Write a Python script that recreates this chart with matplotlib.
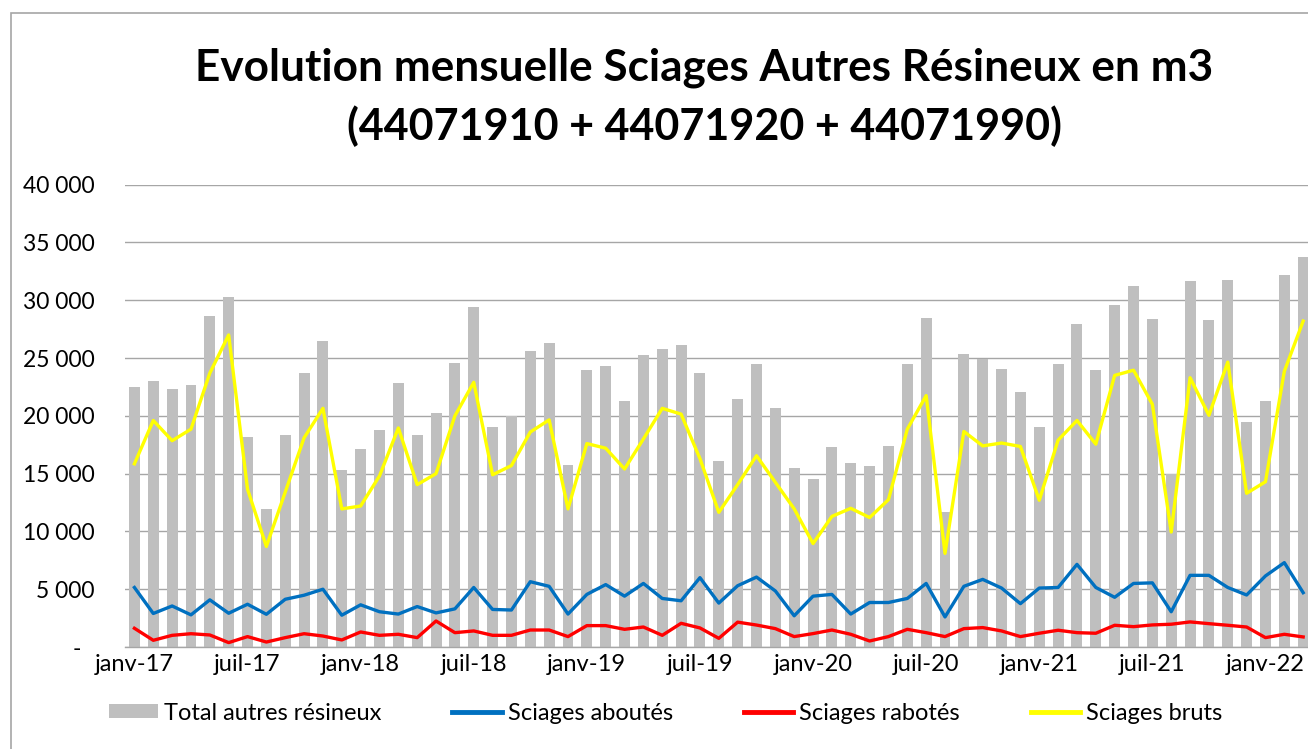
import matplotlib
matplotlib.use("Agg")
import matplotlib.pyplot as plt
import matplotlib.transforms as mtransforms
from matplotlib.patches import Rectangle, Patch
from matplotlib.lines import Line2D
from matplotlib.ticker import FuncFormatter, FixedLocator

plt.rcParams['font.family'] = ['Lato', 'DejaVu Sans']

# ---------------- data ----------------
month_names = ['janv', 'févr', 'mars', 'avr', 'mai', 'juin',
               'juil', 'août', 'sept', 'oct', 'nov', 'déc']
years = ['17', '18', '19', '20', '21', '22']
categories = [f"{m}-{y}" for y in years for m in month_names][:63]

total_autres = [22500, 23000, 22300, 22650, 28600, 30300, 18200, 11950, 18300, 23700,
                26500, 15300, 17150, 18800, 22850, 18350, 20250, 24600, 29400, 19050,
                19950, 25650, 26300, 15750, 24000, 24350, 21300, 25300, 25800, 26150,
                23700, 16100, 21450, 24450, 20650, 15500, 14500, 17300, 15900, 15650,
                17400, 24450, 28450, 11650, 25350, 24950, 24050, 22050, 19000, 24450,
                27950, 23950, 29600, 31200, 28350, 15000, 31700, 28300, 31750, 19500,
                21250, 32200, 33750]

sciages_bruts = [15850, 19600, 17850, 18850, 23700, 27000, 13650, 8700, 13400, 18100,
                 20650, 11950, 12200, 14800, 18950, 14050, 15000, 20000, 22900, 14900,
                 15700, 18600, 19650, 11950, 17600, 17200, 15400, 18000, 20650, 20150,
                 16300, 11650, 14050, 16550, 14250, 11950, 8950, 11300, 12000, 11200,
                 12750, 18850, 21750, 8100, 18650, 17400, 17650, 17350, 12700, 17900,
                 19600, 17550, 23500, 23950, 21000, 9950, 23300, 20050, 24650, 13300,
                 14300, 23850, 28200]

sciages_aboutes = [5150, 2900, 3550, 2780, 4080, 2920, 3700, 2830, 4130, 4480,
                   5000, 2750, 3650, 3050, 2850, 3500, 2950, 3300, 5150, 3250,
                   3200, 5650, 5250, 2850, 4550, 5400, 4400, 5500, 4200, 4000,
                   6000, 3800, 5300, 6050, 4850, 2700, 4400, 4550, 2850, 3850,
                   3850, 4200, 5500, 2600, 5250, 5850, 5100, 3750, 5100, 5150,
                   7150, 5150, 4300, 5500, 5550, 3050, 6200, 6200, 5150, 4500,
                   6150, 7300, 4700]

sciages_rabotes = [1620, 580, 1010, 1150, 1040, 380, 900, 430, 810, 1150,
                   950, 610, 1300, 1010, 1100, 810, 2250, 1240, 1390, 1010,
                   1010, 1470, 1470, 900, 1850, 1850, 1530, 1730, 1010, 2050,
                   1650, 750, 2150, 1900, 1590, 900, 1160, 1470, 1100, 520,
                   900, 1530, 1240, 900, 1590, 1680, 1390, 900, 1190, 1450,
                   1240, 1190, 1880, 1760, 1910, 1970, 2170, 2020, 1880, 1730,
                   810, 1100, 870]

y_ticks = [0, 5000, 10000, 15000, 20000, 25000, 30000, 35000, 40000]

# ---------------- figure ----------------
W, H = 1308, 749
fig = plt.figure(figsize=(W / 100, H / 100), dpi=100)
fig.patch.set_facecolor('white')

left_px, right_px, top_px, bottom_px = 125, 1312.6, 184.7, 647
ax = fig.add_axes([left_px / W, 1 - bottom_px / H,
                   (right_px - left_px) / W, (bottom_px - top_px) / H])

x = list(range(len(categories)))
ax.bar(x, total_autres, width=0.58, color='#BFBFBF', zorder=2)
ax.plot(x, sciages_aboutes, color='#0070C0', lw=2.4, zorder=3, solid_joinstyle='round')
ax.plot(x, sciages_rabotes, color='#FF0000', lw=2.4, zorder=3, solid_joinstyle='round')
ax.plot(x, sciages_bruts, color='#FFFF00', lw=2.4, zorder=3, solid_joinstyle='round')

ax.set_xlim(-0.5, len(categories) - 0.5)
ax.set_ylim(0, 40000)

ax.yaxis.set_major_locator(FixedLocator(y_ticks))
def yfmt(v, pos):
    if v == 0:
        return '-'
    return f"{int(v):,}".replace(',', ' ')
ax.yaxis.set_major_formatter(FuncFormatter(yfmt))
ax.grid(axis='y', color='#A6A6A6', lw=1, zorder=1)
ax.set_axisbelow(True)

tick_pos = x[::6]
ax.set_xticks(tick_pos)
ax.set_xticklabels([categories[i] for i in tick_pos])

for s in ['top', 'right', 'left']:
    ax.spines[s].set_visible(False)
ax.spines['bottom'].set_color('#A6A6A6')
ax.spines['bottom'].set_linewidth(1)
ax.tick_params(axis='both', length=0, labelsize=16.5, colors='black')
ax.tick_params(axis='y', pad=21.6)
ax.tick_params(axis='x', pad=5, labelsize=17)

# shift "-" zero label left like Excel accounting format
fig.canvas.draw()
for lab in ax.get_yticklabels():
    if lab.get_text() == '-':
        lab.set_transform(lab.get_transform() +
                          mtransforms.ScaledTranslation(-14 / 100, 0, fig.dpi_scale_trans))

# title
cx = 704.5 / W
fig.text(cx, 1 - 80 / H, "Evolution mensuelle Sciages Autres Résineux en m3",
         ha='center', va='baseline', fontsize=31.8, fontweight='bold')
fig.text(cx, 1 - 140 / H, "(44071910 + 44071920 + 44071990)",
         ha='center', va='baseline', fontsize=31, fontweight='bold')

# legend
handles = [Patch(facecolor='#BFBFBF', edgecolor='none'),
           Line2D([0], [0], color='#0070C0', lw=3.5),
           Line2D([0], [0], color='#FF0000', lw=3.5),
           Line2D([0], [0], color='#FFFF00', lw=3.5)]
labels = ['Total autres résineux', 'Sciages aboutés', 'Sciages rabotés', 'Sciages bruts']
fig.legend(handles, labels, loc='center', bbox_to_anchor=(665.5 / W, 1 - 713 / H),
           ncol=4, frameon=False, fontsize=17, handlelength=2.1, handleheight=0.55,
           handletextpad=0.25, columnspacing=3.0, borderaxespad=0, borderpad=0)

# outer chart frame
fig.patches.append(Rectangle((11 / W, -0.2), 2, 1 - 13 / H + 0.2, transform=fig.transFigure,
                             fill=False, edgecolor='#A6A6A6', lw=1.2, clip_on=False))

fig.savefig('out.png', dpi=100)
